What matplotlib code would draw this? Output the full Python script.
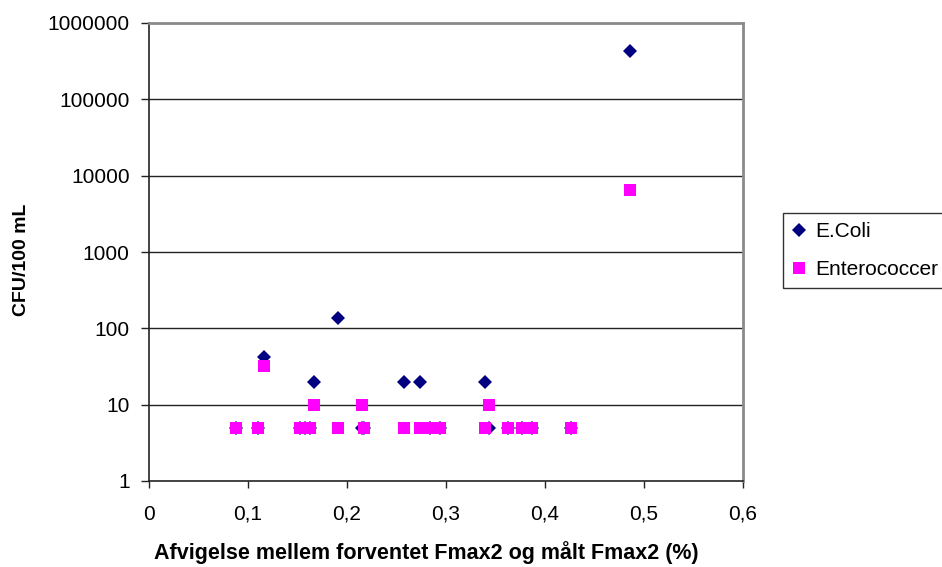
import matplotlib
matplotlib.use("Agg")
import matplotlib.pyplot as plt
from matplotlib.ticker import FixedLocator, FuncFormatter

plt.rcParams['font.family'] = ['Liberation Sans', 'DejaVu Sans']

# afvigelse (fraction) and counts per sample
afvigelse = [0.088, 0.110, 0.116, 0.153, 0.158, 0.163, 0.167, 0.191, 0.215, 0.217,
             0.258, 0.274, 0.284, 0.294, 0.339, 0.343, 0.363, 0.377, 0.387, 0.426, 0.486]
ecoli = [5, 5, 42, 5, 5, 5, 20, 136, 5, 5,
         20, 20, 5, 5, 20, 5, 5, 5, 5, 5, 430000]
entero = [5, 5, 32, 5, 5, 5, 10, 5, 10, 5,
          5, 5, 5, 5, 5, 10, 5, 5, 5, 5, 6500]

y_ticks = [1, 10, 100, 1000, 10000, 100000, 1000000]
x_ticks = [0, 0.1, 0.2, 0.3, 0.4, 0.5, 0.6]

W, H = 942, 567
fig = plt.figure(figsize=(W / 100, H / 100), dpi=100)
ax = fig.add_axes([149/W, 1 - 481/H, (743 - 149)/W, (481 - 23)/H])

ax.set_yscale('log')
ax.set_ylim(1, 1000000)
ax.set_xlim(0, 0.6)

# horizontal gridlines at each decade
for v in y_ticks[1:-1]:
    ax.axhline(v, color='#222222', lw=1.0, zorder=1)

ax.plot(afvigelse, ecoli, linestyle='none', marker='D', markersize=7.0,
        color='#000080', markeredgewidth=0, label='E.Coli', zorder=3)
ax.plot(afvigelse, entero, linestyle='none', marker='s', markersize=8.6,
        color='#FF00FF', markeredgewidth=0, label='Enterococcer', zorder=4)

ax.yaxis.set_major_locator(FixedLocator(y_ticks))
ax.yaxis.set_minor_locator(FixedLocator([]))
ax.yaxis.set_major_formatter(FuncFormatter(lambda v, p: '%d' % round(v)))
ax.xaxis.set_major_locator(FixedLocator(x_ticks))
ax.xaxis.set_major_formatter(FuncFormatter(lambda v, p: ('%g' % round(v, 1)).replace('.', ',')))

ax.tick_params(axis='y', direction='out', length=6, width=1, pad=8, labelsize=15, color='#222222')
ax.tick_params(axis='x', direction='out', length=5, width=1, pad=12, labelsize=15, color='#222222')

for s in ['left', 'bottom']:
    ax.spines[s].set_color('#222222')
    ax.spines[s].set_linewidth(1.2)
for s in ['top', 'right']:
    ax.spines[s].set_color('#8a8a8a')
    ax.spines[s].set_linewidth(2.0)

fig.text(426/W, 1 - 553/H, 'Afvigelse mellem forventet Fmax2 og målt Fmax2 (%)',
         fontsize=15.5, fontweight='bold', ha='center', va='center')
fig.text(22/W, 1 - 260/H, 'CFU/100 mL', fontsize=14, fontweight='bold',
         rotation=90, ha='center', va='center')

leg = fig.legend(loc='upper left', bbox_to_anchor=(783/W, 1 - 213/H),
                 fontsize=15, frameon=True, fancybox=False, edgecolor='black',
                 handlelength=0.6, handletextpad=0.5, borderpad=0.45,
                 labelspacing=0.9, borderaxespad=0)
leg.get_frame().set_linewidth(1.0)

fig.savefig('out.png', dpi=100)
